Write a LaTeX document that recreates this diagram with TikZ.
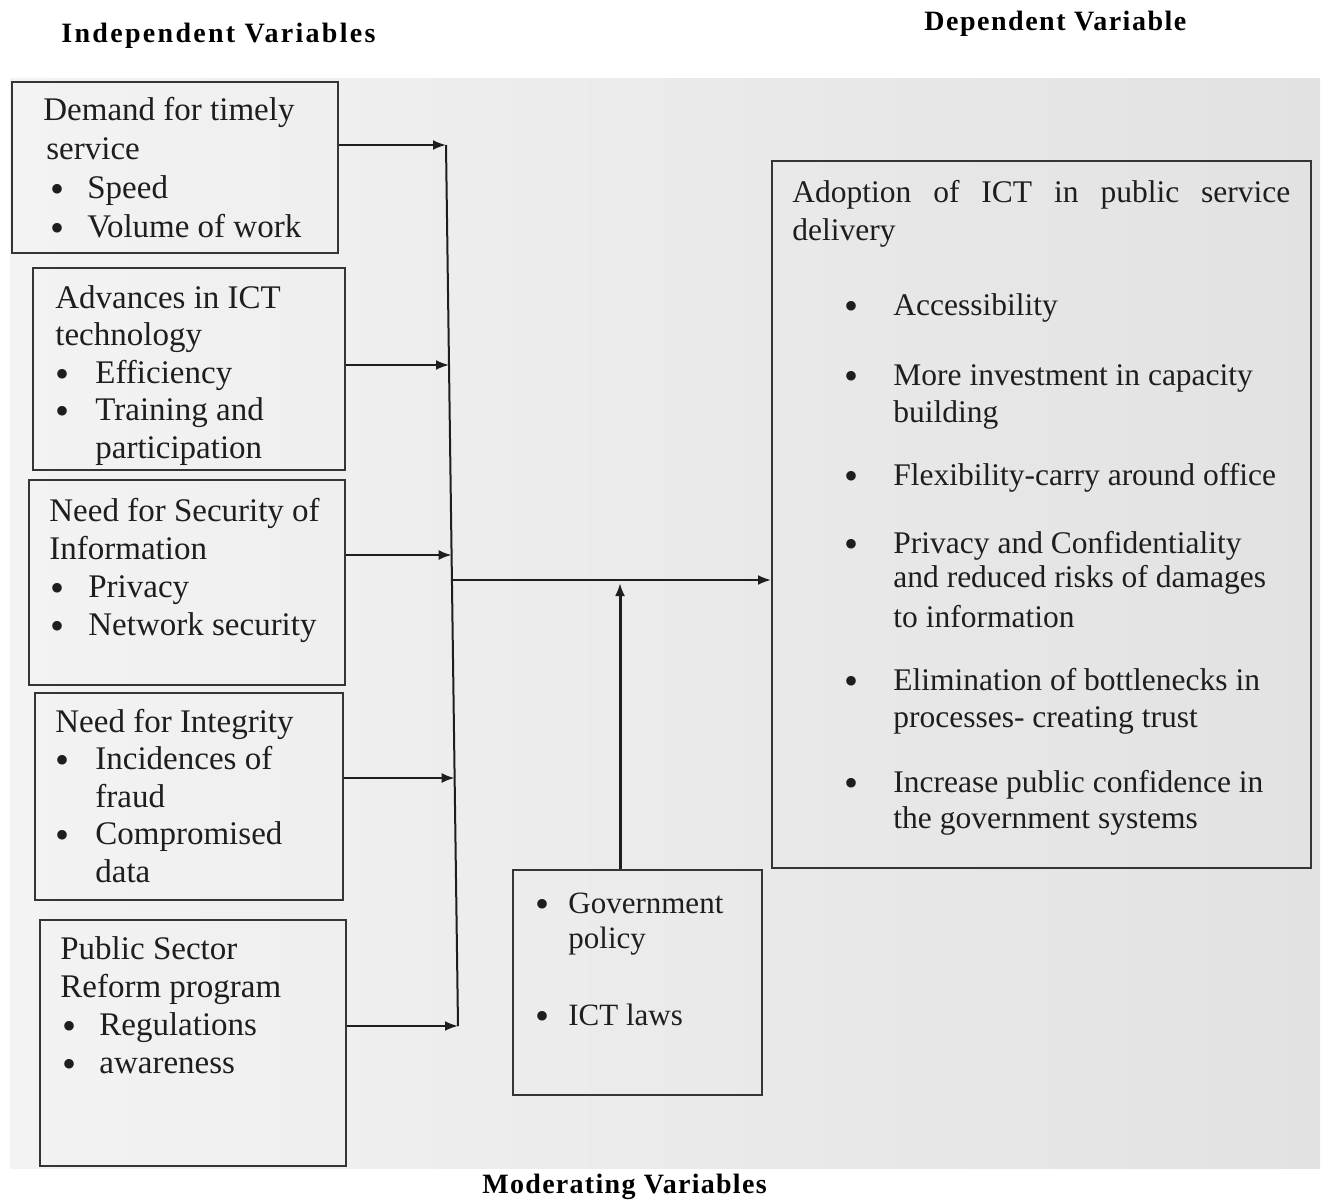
\documentclass[tikz,border=0pt]{standalone}
\usepackage{fontspec}
\setmainfont{Liberation Serif}
\newfontfamily\hdA[LetterSpace=8.2]{Liberation Serif}
\newfontfamily\hdB[LetterSpace=5.4]{Liberation Serif}
\newfontfamily\hdC[LetterSpace=4.6]{Liberation Serif}
\usetikzlibrary{arrows.meta,fit}
\definecolor{ink}{HTML}{1E1E1E}
\definecolor{bgl}{HTML}{F3F3F3}
\definecolor{bgr}{HTML}{E2E2E2}
\newcommand{\bu}[2]{\hspace*{#1}\makebox[#2][l]{\raisebox{-2pt}{\fontsize{20}{0}\selectfont\textbullet}}}
\tikzset{
  boxframe/.style={draw=ink!90, line width=1pt, inner sep=0pt},
  boxtext/.style={anchor=base west, align=left, inner sep=0pt, text=ink},
  conn/.style={draw=ink, line width=1pt},
  arr/.style={conn, -{Latex[length=6.5pt,width=5pt]}},
  head/.style={anchor=base west, inner sep=0pt, text=black, font=\bfseries}
}
\begin{document}
\begin{tikzpicture}[x=0.5pt,y=-0.5pt]
\useasboundingbox (0,0) rectangle (1322,1199);
\fill[white] (0,0) rectangle (1322,1199);
\shade[left color=bgl, right color=bgr] (10,78) rectangle (1320,1168);

% headings
\node[head, font=\hdA\bfseries\fontsize{14}{16}\selectfont] (hind) at (61,42) {Independent Variables};
\node[head, font=\hdB\bfseries\fontsize{14}{16}\selectfont] (hdep) at (924,30) {Dependent Variable};
\node[head, font=\hdC\bfseries\fontsize{14}{16}\selectfont] (hmod) at (482,1193) {Moderating Variables};

% frames
\node[boxframe, fit={(12,82) (338,253)}] (B1) {};
\node[boxframe, fit={(33,268) (345,470)}] (B2) {};
\node[boxframe, fit={(29,480) (345,685)}] (B3) {};
\node[boxframe, fit={(35,693) (343,900)}] (B4) {};
\node[boxframe, fit={(40,920) (346,1166)}] (B5) {};
\node[boxframe, fit={(513,870) (762,1095)}] (M) {};
\node[boxframe, fit={(772,161) (1311,868)}] (DV) {};

% box texts (anchored at the baseline of their last line)
\node[boxtext, font=\fontsize{16.5}{19.5}\selectfont] (t1) at (43,237) {%
Demand for timely\\
\hspace*{1.5pt}service\\
\bu{3.5pt}{18.5pt}Speed\\
\bu{3.5pt}{18.5pt}Volume of work};

\node[boxtext, font=\fontsize{16.5}{18.75}\selectfont] (t2) at (55,458) {%
Advances in ICT\\
technology\\
\bu{0pt}{20pt}Efficiency\\
\bu{0pt}{20pt}Training and\\
\hspace*{20pt}participation};

\node[boxtext, font=\fontsize{16.5}{19}\selectfont] (t3) at (49,635) {%
Need for Security of\\
Information\\
\bu{0.5pt}{19pt}Privacy\\
\bu{0.5pt}{19pt}Network security};

\node[boxtext, font=\fontsize{16.5}{18.75}\selectfont] (t4) at (55,882) {%
Need for Integrity\\
\bu{0pt}{20pt}Incidences of\\
\hspace*{20pt}fraud\\
\bu{0pt}{20pt}Compromised\\
\hspace*{20pt}data};

\node[boxtext, font=\fontsize{16.5}{18.85}\selectfont] (t5) at (60,1073) {%
Public Sector\\
Reform program\\
\bu{1pt}{18.5pt}Regulations\\
\bu{1pt}{18.5pt}awareness};

\node[boxtext, font=\fontsize{15.5}{17.5}\selectfont] (tm) at (535,1025) {%
\bu{0pt}{16.5pt}Government\\
\hspace*{16.5pt}policy\\[21pt]
\bu{0pt}{16.5pt}ICT laws};

\node[boxtext, font=\fontsize{15.75}{18.5}\selectfont] (td) at (792,828) {%
\makebox[249pt][s]{Adoption of ICT in public service}\\[0.5pt]
delivery\\[19pt]
\bu{26pt}{24.5pt}Accessibility\\[16.5pt]
\bu{26pt}{24.5pt}More investment in capacity\\
\hspace*{50.5pt}building\\[13pt]
\bu{26pt}{24.5pt}Flexibility-carry around office\\[15.5pt]
\bu{26pt}{24.5pt}Privacy and Confidentiality\\[-1.5pt]
\hspace*{50.5pt}and reduced risks of damages\\[1.5pt]
\hspace*{50.5pt}to information\\[13pt]
\bu{26pt}{24.5pt}Elimination of bottlenecks in\\
\hspace*{50.5pt}processes- creating trust\\[14pt]
\bu{26pt}{24.5pt}Increase public confidence in\\[-0.5pt]
\hspace*{50.5pt}the government systems};

% bus and connectors
\coordinate (b1) at (446,145);
\coordinate (b2) at (449,365);
\coordinate (b3) at (451.6,555);
\coordinate (hm) at (451.9,580);
\coordinate (b4) at (454.6,778);
\coordinate (b5) at (458,1026);
\coordinate (mj) at (620,583);

\draw[conn] (b1) -- (b5);
\draw[arr] (B1.east |- b1) -- (b1);
\draw[arr] (B2.east |- b2) -- (b2);
\draw[arr] (B3.east |- b3) -- (b3);
\draw[arr] (B4.east |- b4) -- (b4);
\draw[arr] (B5.east |- b5) -- (b5);
\draw[arr] (hm) -- (DV.west |- hm);
\draw[arr, line width=1.5pt] (M.north -| mj) -- (mj);
\end{tikzpicture}
\end{document}
